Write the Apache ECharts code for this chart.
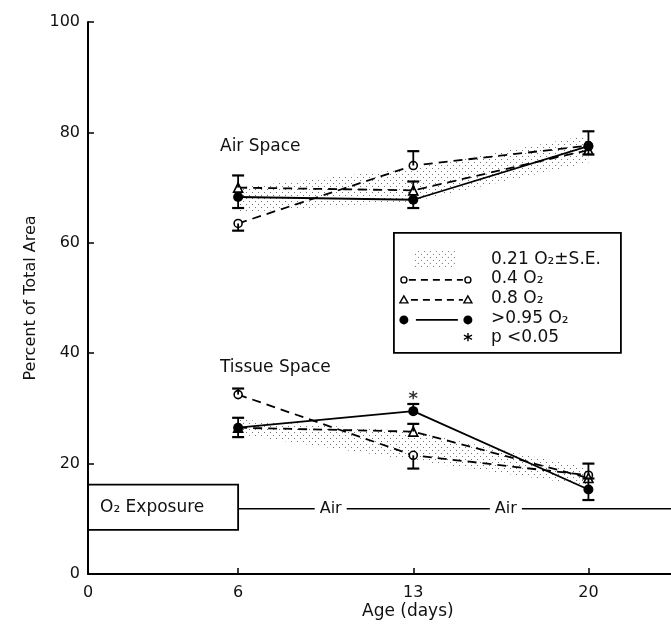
<!DOCTYPE html>
<html><head><meta charset="utf-8">
<script src="https://cdn.jsdelivr.net/npm/echarts@6/dist/echarts.min.js"></script>
<style>html,body{margin:0;padding:0;background:#fff}#c{width:671px;height:624px}</style>
</head><body><div id="c"></div>
<script>
// ---- data ----
const days = [6, 13, 20];
const xTicks = [0, 6, 13, 20];
const yTicks = [0, 20, 40, 60, 80, 100];
// Air space
const airBandLow  = [65.5, 67.5, 74.5];
const airBandHigh = [70.0, 73.5, 79.5];
const air04 = [63.5, 74.0, 77.6];
const air08 = [70.0, 69.5, 76.8];
const air95 = [68.3, 67.8, 77.5];
// Tissue space
const tisBandLow  = [25.3, 20.6, 16.0];
const tisBandHigh = [28.0, 25.8, 19.2];
const tis04 = [32.5, 21.5, 17.9];
const tis08 = [26.5, 25.8, 17.4];
const tis95 = [26.5, 29.5, 15.3];
// error bars: [day, from (mean), to (end with cap)]
const errBars = [
  [6,70.0,72.2],[6,68.3,66.3],[6,63.5,62.2],
  [13,74.0,76.6],[13,69.5,71.1],[13,67.8,66.3],
  [20,77.5,80.2],[20,77.5,76.0],
  [6,32.5,33.6],[6,26.5,28.3],[6,26.5,24.8],
  [13,29.5,30.8],[13,25.8,27.2],[13,21.5,19.1],
  [20,17.9,20.0],[20,15.3,17.3],[20,15.3,13.4]
];
const significant = [[13, 31.6]];
// exposure bar: [fromDay, toDay, low, high]
const exposureBox = [[0, 6, 8.0, 16.2]];
const airLineY = 11.8;
const airLabelDays = [9.7, 16.7];
const xMax = 23.3;

const pair = (v) => days.map((d, i) => [d, v[i]]);
const bandRows = (lo, hi) => days.map((d, i) => [d, lo[i], hi[i]]);

// stipple pattern
const pat = document.createElement('canvas');
pat.width = 6; pat.height = 6;
const pc = pat.getContext('2d');
pc.fillStyle = 'rgba(0,0,0,0.55)';
pc.fillRect(0, 0, 1, 1);
pc.fillRect(3, 3, 1, 1);
const stipple = { image: pat, repeat: 'repeat' };

const FONT = 'DejaVu Sans';
const chart = echarts.init(document.getElementById('c'), null, { renderer: 'canvas' });

function band(lo, hi) {
  return {
    type: 'custom', data: bandRows(lo, hi), z: 1, silent: true,
    encode: { x: 0, y: [1, 2] },
    renderItem: function (params, api) {
      if (params.dataIndexInside !== 0) return null;
      const n = params.dataInsideLength;
      const up = [], dn = [];
      for (let i = 0; i < n; i++) {
        up.push(api.coord([api.value(0, i), api.value(2, i)]));
        dn.push(api.coord([api.value(0, i), api.value(1, i)]));
      }
      return { type: 'polygon', shape: { points: up.concat(dn.reverse()) },
        style: { fill: stipple, stroke: null } };
    }
  };
}
function dashed(vals, sym, size) {
  return { type: 'line', data: pair(vals), symbol: sym, symbolSize: size,
    lineStyle: { color: '#000', width: 1.8, type: [9, 6] },
    itemStyle: { color: '#fff', borderColor: '#000', borderWidth: 1.6 }, z: 3 };
}
function solid(vals) {
  return { type: 'line', data: pair(vals), symbol: 'circle', symbolSize: 10,
    lineStyle: { color: '#000', width: 1.8 },
    itemStyle: { color: '#000' }, z: 4 };
}

const option = {
  animation: false,
  backgroundColor: '#fff',
  textStyle: { fontFamily: FONT },
  grid: { left: 88, right: 0, top: 22, bottom: 50, containLabel: false },
  xAxis: {
    type: 'value', min: 0, max: xMax,
    axisLine: { lineStyle: { color: '#000', width: 2 } },
    axisTick: { inside: true, length: 6, lineStyle: { color: '#000', width: 1.5 }, customValues: xTicks },
    axisLabel: { fontSize: 16, color: '#111', margin: 11, customValues: xTicks, fontFamily: FONT },
    splitLine: { show: false }
  },
  yAxis: {
    type: 'value', min: 0, max: 100, interval: 20,
    name: 'Percent of Total Area', nameLocation: 'middle', nameGap: 45,
    nameTextStyle: { fontSize: 16, color: '#111', fontFamily: FONT },
    axisLine: { show: true, lineStyle: { color: '#000', width: 2 } },
    axisTick: { show: true, inside: true, length: 6, lineStyle: { color: '#000', width: 1.5 } },
    axisLabel: { fontSize: 16, color: '#111', margin: 8, fontFamily: FONT, customValues: yTicks },
    splitLine: { show: false }
  },
  series: [
    band(airBandLow, airBandHigh),
    band(tisBandLow, tisBandHigh),
    dashed(air04, 'circle', 8),
    dashed(air08, 'triangle', 9),
    solid(air95),
    dashed(tis04, 'circle', 8),
    dashed(tis08, 'triangle', 9),
    solid(tis95),
    {
      type: 'custom', data: errBars, z: 5, clip: false,
      encode: { x: 0, y: [1, 2] },
      renderItem: function (params, api) {
        const x = api.value(0), a = api.value(1), b = api.value(2);
        const p1 = api.coord([x, a]), p2 = api.coord([x, b]);
        return { type: 'group', children: [
          { type: 'line', shape: { x1: p1[0], y1: p1[1], x2: p2[0], y2: p2[1] }, style: { stroke: '#000', lineWidth: 1.8 } },
          { type: 'line', shape: { x1: p2[0] - 6, y1: p2[1], x2: p2[0] + 6, y2: p2[1] }, style: { stroke: '#000', lineWidth: 2.2 } }
        ]};
      }
    },
    {
      type: 'scatter', data: significant, symbolSize: 0, z: 6,
      label: { show: true, formatter: '*', position: 'inside', fontSize: 18, fontWeight: 'bold', color: '#000', fontFamily: FONT }
    },
    {
      type: 'custom', data: exposureBox, z: 5, clip: false,
      encode: { x: [0, 1], y: [2, 3] },
      renderItem: function (params, api) {
        const tl = api.coord([api.value(0), api.value(3)]);
        const br = api.coord([api.value(1), api.value(2)]);
        const ly = api.coord([0, airLineY])[1];
        const xEnd = api.coord([xMax, 0])[0];
        const children = [
          { type: 'rect', shape: { x: tl[0], y: tl[1], width: br[0] - tl[0], height: br[1] - tl[1] },
            style: { fill: 'none', stroke: '#000', lineWidth: 1.8 } },
          { type: 'text', style: { x: tl[0] + 12, y: (tl[1] + br[1]) / 2, text: 'O₂ Exposure',
            fontSize: 17, fontFamily: FONT, fill: '#111', verticalAlign: 'middle', align: 'left' } }
        ];
        let cur = br[0];
        airLabelDays.forEach(function (d) {
          const cx = api.coord([d, 0])[0];
          children.push({ type: 'line', shape: { x1: cur, y1: ly, x2: cx - 16, y2: ly }, style: { stroke: '#000', lineWidth: 1.5 } });
          children.push({ type: 'text', style: { x: cx, y: ly, text: 'Air', fontSize: 16, fontFamily: FONT, fill: '#111', align: 'center', verticalAlign: 'middle' } });
          cur = cx + 16;
        });
        children.push({ type: 'line', shape: { x1: cur, y1: ly, x2: xEnd, y2: ly }, style: { stroke: '#000', lineWidth: 1.5 } });
        return { type: 'group', children: children };
      }
    }
  ],
  graphic: [
    { type: 'text', left: 220, top: 138, style: { text: 'Air Space', fontSize: 17, fontFamily: FONT, fill: '#111' } },
    { type: 'text', left: 220, top: 359, style: { text: 'Tissue Space', fontSize: 17, fontFamily: FONT, fill: '#111' } },
    { type: 'text', left: 362, top: 603, style: { text: 'Age (days)', fontSize: 17, fontFamily: FONT, fill: '#111' } },
    { type: 'group', left: 393, top: 232, children: [
      { type: 'rect', shape: { x: 0, y: 0, width: 227, height: 120 }, style: { fill: '#fff', stroke: '#000', lineWidth: 1.8 } },
      { type: 'rect', shape: { x: 20, y: 18, width: 42, height: 18 }, style: { fill: stipple, stroke: null } },
      { type: 'text', style: { x: 97, y: 27, text: '0.21 O₂±S.E.', fontSize: 17, fontFamily: FONT, fill: '#111', verticalAlign: 'middle' } },
      // 0.4
      { type: 'circle', shape: { cx: 10, cy: 47, r: 3 }, style: { fill: '#fff', stroke: '#000', lineWidth: 1.4 } },
      { type: 'line', shape: { x1: 15, y1: 47, x2: 69, y2: 47 }, style: { stroke: '#000', lineWidth: 1.6, lineDash: [7, 5] } },
      { type: 'circle', shape: { cx: 74, cy: 47, r: 3 }, style: { fill: '#fff', stroke: '#000', lineWidth: 1.4 } },
      { type: 'text', style: { x: 97, y: 46, text: '0.4 O₂', fontSize: 17, fontFamily: FONT, fill: '#111', verticalAlign: 'middle' } },
      // 0.8
      { type: 'polygon', shape: { points: [[10, 63], [6, 70], [14, 70]] }, style: { fill: '#fff', stroke: '#000', lineWidth: 1.4 } },
      { type: 'line', shape: { x1: 17, y1: 67, x2: 69, y2: 67 }, style: { stroke: '#000', lineWidth: 1.6, lineDash: [7, 5] } },
      { type: 'polygon', shape: { points: [[74, 63], [70, 70], [78, 70]] }, style: { fill: '#fff', stroke: '#000', lineWidth: 1.4 } },
      { type: 'text', style: { x: 97, y: 66, text: '0.8 O₂', fontSize: 17, fontFamily: FONT, fill: '#111', verticalAlign: 'middle' } },
      // >0.95
      { type: 'circle', shape: { cx: 10, cy: 87, r: 4.5 }, style: { fill: '#000' } },
      { type: 'line', shape: { x1: 22, y1: 87, x2: 64, y2: 87 }, style: { stroke: '#000', lineWidth: 1.8 } },
      { type: 'circle', shape: { cx: 74, cy: 87, r: 4.5 }, style: { fill: '#000' } },
      { type: 'text', style: { x: 97, y: 86, text: '>0.95 O₂', fontSize: 17, fontFamily: FONT, fill: '#111', verticalAlign: 'middle' } },
      // p
      { type: 'text', style: { x: 74, y: 108, text: '*', fontSize: 18, fontWeight: 'bold', fontFamily: FONT, fill: '#000', align: 'center', verticalAlign: 'middle' } },
      { type: 'text', style: { x: 97, y: 105, text: 'p <0.05', fontSize: 17, fontFamily: FONT, fill: '#111', verticalAlign: 'middle' } }
    ]}
  ]
};
chart.setOption(option);
</script>
</body></html>
